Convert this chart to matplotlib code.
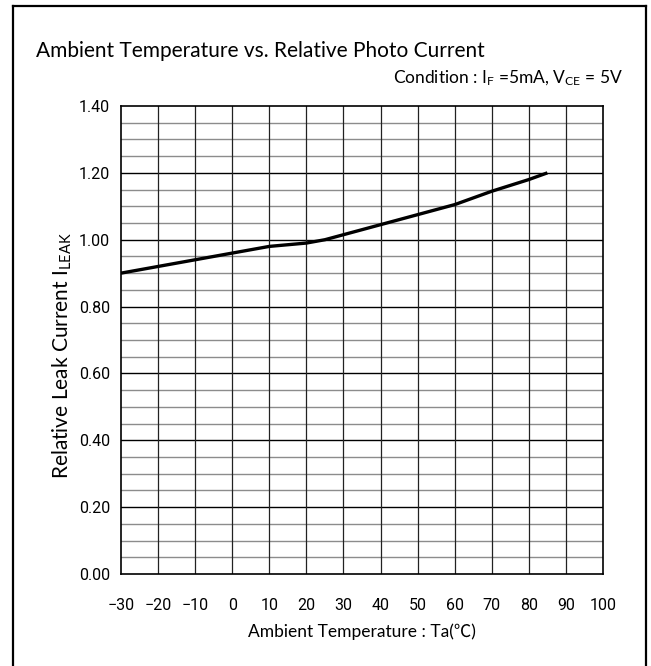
import numpy as np
import matplotlib
matplotlib.use("Agg")
import matplotlib.pyplot as plt
from matplotlib.lines import Line2D

# curve
temp = [-30, -20, -10, 0, 10, 20, 25, 30, 40, 50, 60, 70, 80, 85]
rel_current = [0.90, 0.92, 0.94, 0.96, 0.98, 0.99, 1.00, 1.015, 1.045, 1.075, 1.105, 1.145, 1.18, 1.20]

x_ticks = list(range(-30, 101, 10))
x_labels = ["\u221230", "\u221220", "\u221210", "0", "10", "20", "30", "40", "50", "60", "70", "80", "90", "100"]
y_ticks = [0.0, 0.2, 0.4, 0.6, 0.8, 1.0, 1.2, 1.4]
y_labels = ["%.2f" % v for v in y_ticks]

title_font = ['Lato', 'Noto Sans CJK JP', 'DejaVu Sans']
tick_font = ['Roboto', 'DejaVu Sans']

W, H = 651, 666
fig = plt.figure(figsize=(W / 100, H / 100), dpi=100)
ax = fig.add_axes([121 / W, 1 - 574 / H, 482 / W, 468 / H])

# grid: minor every 0.05, major every 0.2
for v in np.arange(0.05, 1.40, 0.05):
    if abs(v / 0.2 - round(v / 0.2)) > 1e-6:
        ax.axhline(v, color='#8c8c8c', lw=1.0, zorder=1)
for v in y_ticks[1:-1]:
    ax.axhline(v, color='black', lw=1.0, zorder=2)
for v in x_ticks[1:-1]:
    ax.axvline(v, color='#222222', lw=0.9, zorder=2)

ax.plot(temp, rel_current, color='black', lw=2.4, solid_capstyle='butt', zorder=3)

ax.set_xlim(-30, 100)
ax.set_ylim(0, 1.4)
ax.set_xticks(x_ticks)
ax.set_xticklabels(x_labels, family=tick_font, fontsize=11.5)
ax.set_yticks(y_ticks)
ax.set_yticklabels(y_labels, family=tick_font, fontsize=11.5)
ax.tick_params(length=0)
ax.tick_params(axis='x', pad=17)
ax.tick_params(axis='y', pad=8)
for s in ax.spines.values():
    s.set_linewidth(1.2)
    s.set_color('black')

ax.set_xlabel("Ambient Temperature : Ta(\u2103)", family=title_font, fontsize=12.5)
ax.xaxis.set_label_coords(0.5, -(632 - 574) / 468)
ax.xaxis.label.set_va('center')
ax.set_ylabel("Relative Leak Current $\\mathregular{I_{LEAK}}$", family=title_font, fontsize=15)
ax.yaxis.set_label_coords(-(121 - 62) / 482, (574 - 356) / 468)
ax.yaxis.label.set_va('center')

fig.text(260 / W, 1 - 51 / H, "Ambient Temperature vs. Relative Photo Current",
         family=title_font, fontsize=15, ha='center', va='center')
fig.text(623 / W, 1 - 78 / H,
         "Condition : $\\mathregular{I_F}$ =5mA, $\\mathregular{V_{CE}}$ = 5V",
         family=title_font, fontsize=12.5, ha='right', va='center')

# outer frame (bottom edge is outside the image)
for xs, ys in [([13, 13], [6, 700]), ([646, 646], [6, 700]), ([13, 646], [6, 6])]:
    fig.add_artist(Line2D([x / W for x in xs], [1 - y / H for y in ys], color='black', lw=1.6))

fig.savefig("out.png", dpi=100)
